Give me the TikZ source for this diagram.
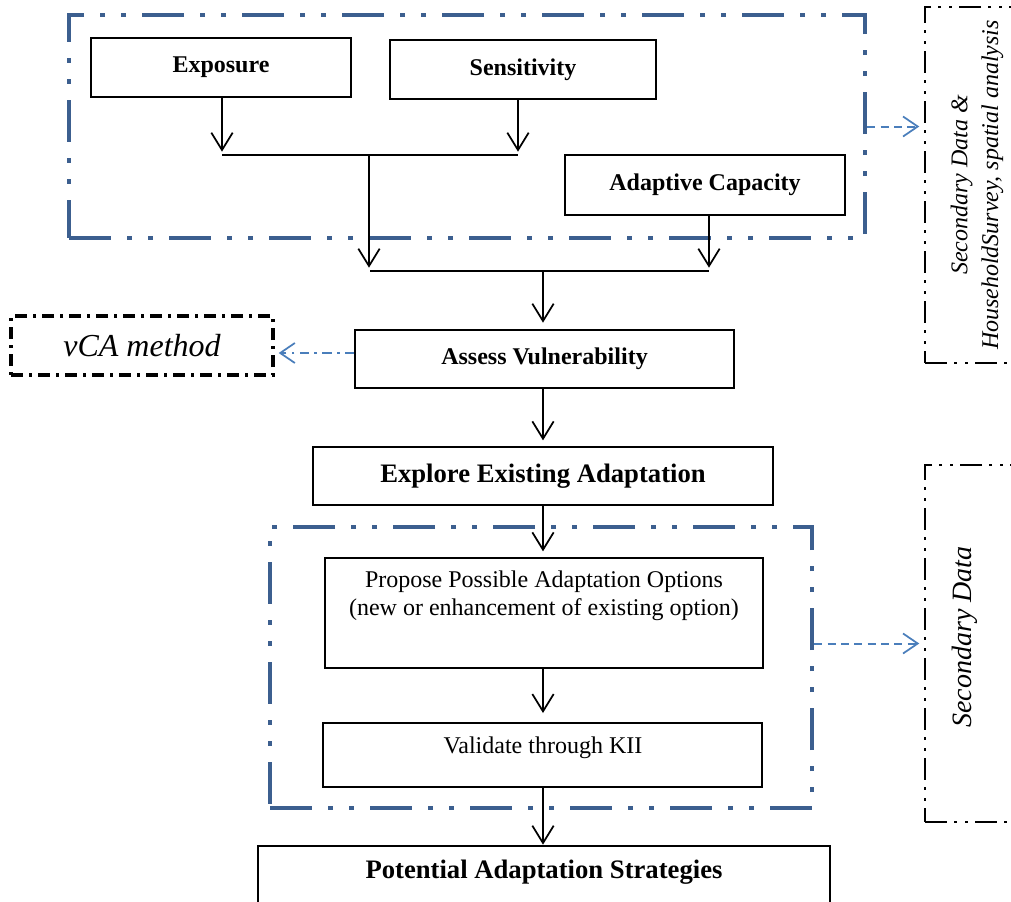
\documentclass[tikz,border=0pt]{standalone}
\usepackage{fontspec}
\setmainfont{Liberation Serif}
\usetikzlibrary{arrows.meta,calc}
\definecolor{grpblue}{HTML}{3C5F8F}
\definecolor{arrblue}{HTML}{4A7EBB}
\begin{document}
\begin{tikzpicture}[x=0.75pt,y=-0.75pt,
  box/.style={draw=black,line width=1pt,fill=white,inner sep=0pt,align=center,font=\fontsize{18}{21}\selectfont\bfseries},
  bigbox/.style={box,font=\fontsize{20}{24}\selectfont\bfseries},
  plainbox/.style={box,font=\fontsize{18}{21}\selectfont},
  plaintext/.style={inner sep=0pt,align=center,font=\fontsize{18}{21}\selectfont},
  grp/.style={draw=grpblue,line width=3.5pt,inner sep=0pt,
    dash pattern=on 31.5pt off 12pt on 3.75pt off 12pt on 3.75pt off 12pt},
  srcbox/.style={draw=black,line width=1.6pt,inner sep=0pt,
    dash pattern=on 16.5pt off 5.6pt on 1.9pt off 6pt on 1.9pt off 5.6pt},
  methbox/.style={draw=black,line width=2.5pt,inner sep=0pt,
    dash pattern=on 9pt off 4.5pt on 2.25pt off 4.5pt},
  flow/.style={line width=1.5pt,-{Straight Barb[length=13pt,width=16pt,line width=1.3pt]}},
  joinline/.style={line width=1.3pt},
  bluedash/.style={draw=arrblue,line width=1.5pt,dash pattern=on 6pt off 4pt,
    -{Straight Barb[length=11pt,width=15pt,line width=1.3pt]}},
  bluedashdot/.style={draw=arrblue,line width=1.4pt,dash pattern=on 7pt off 4pt on 2pt off 4pt,
    -{Straight Barb[length=11pt,width=15pt,line width=1.3pt]}},
  rottext/.style={rotate=90,align=center,inner sep=0pt}
]
\useasboundingbox (0,0) rectangle (1011,901);
\clip (0,0) rectangle (1011,901);

% group frames
\node[grp,minimum width=597pt,minimum height=167.25pt] (topgrp) at (467,126.5) {};
\node[grp,minimum width=406.5pt,minimum height=210.75pt] (botgrp) at (541,667.5) {};

% source boxes on the right
\node[srcbox,minimum width=131.25pt,minimum height=267pt] (srctop) at (1012.5,185) {};
\node[rottext,font=\fontsize{18}{23}\selectfont\itshape] (srctoptxt) at (977,185)
  {Secondary Data \&\\ HouseholdSurvey, spatial analysis};
\node[srcbox,minimum width=131.25pt,minimum height=267.75pt] (srcbot) at (1012.5,643.5) {};
\node[rottext,font=\fontsize{21}{25}\selectfont\itshape] (srcbottxt) at (965,637) {Secondary Data};

% method box
\node[methbox,minimum width=196.5pt,minimum height=44.25pt,font=\fontsize{24}{28}\selectfont\itshape] (vca) at (142,345.5) {vCA method};

% main boxes
\node[box,minimum width=195pt,minimum height=44.25pt] (expo) at (221,67.5) {Exposure};
\node[box,minimum width=199.5pt,minimum height=44.25pt] (sens) at (523,69.5) {Sensitivity};
\node[box,minimum width=210pt,minimum height=45pt] (adap) at (705,185) {Adaptive Capacity};
\node[box,minimum width=284.25pt,minimum height=43.5pt] (assess) at (544.5,359) {Assess Vulnerability};
\node[bigbox,minimum width=345pt,minimum height=43.5pt] (explore) at (543,476) {Explore Existing Adaptation};
\node[plainbox,minimum width=328.5pt,minimum height=82.5pt] (propose) at (544,613) {};
\node[plaintext] (proposetxt) at (544,596) {Propose Possible Adaptation Options\\(new or enhancement of existing option)};
\node[plainbox,minimum width=329.25pt,minimum height=48pt] (valid) at (542.5,755) {};
\node[plaintext] (validtxt) at (543,748) {Validate through KII};
\node[bigbox,minimum width=429pt,minimum height=52.5pt] (potential) at (544,881) {};
\node[plaintext,font=\fontsize{20}{24}\selectfont\bfseries] (potentialtxt) at (544,872) {Potential Adaptation Strategies};

% junction coordinates
\coordinate (jL) at (222,155);
\coordinate (jR) at (518,155);
\coordinate (jM) at (369,155);
\coordinate (kL) at (370,271);
\coordinate (kR) at (709,271);
\coordinate (kM) at (543,271);

% connectors
\draw[flow,shorten >=2.5pt] (expo.south -| jL) -- (jL);
\draw[flow,shorten >=2.5pt] (sens.south -| jR) -- (jR);
\draw[joinline] (jL) -- (jR);
\draw[flow,shorten >=2.5pt] (jM) -- (jM |- kL);
\draw[flow,shorten >=2.5pt] (adap.south -| kR) -- (kR);
\draw[joinline] (kL) -- (kR);
\draw[flow,shorten >=5pt] (kM) -- (kM |- assess.north);
\draw[flow,shorten >=4.5pt] (assess.south -| kM) -- (explore.north -| kM);
\draw[flow,shorten >=4.5pt] (explore.south -| kM) -- (propose.north -| kM);
\draw[flow,shorten >=7pt] (propose.south -| kM) -- (valid.north -| kM);
\draw[flow,shorten >=0.5pt] (valid.south -| kM) -- (potential.north -| kM);

% blue side arrows
\coordinate (vArr) at ($(assess.west)+(0,-6)$);
\draw[bluedashdot,shorten >=3pt] (vArr) -- (vArr -| vca.east);
\draw[bluedash,shorten >=3.5pt] (topgrp.east) -- (topgrp.east -| srctop.west);
\draw[bluedash,shorten >=3.5pt] (botgrp.east |- srcbot) -- (srcbot.west);
\end{tikzpicture}
\end{document}
